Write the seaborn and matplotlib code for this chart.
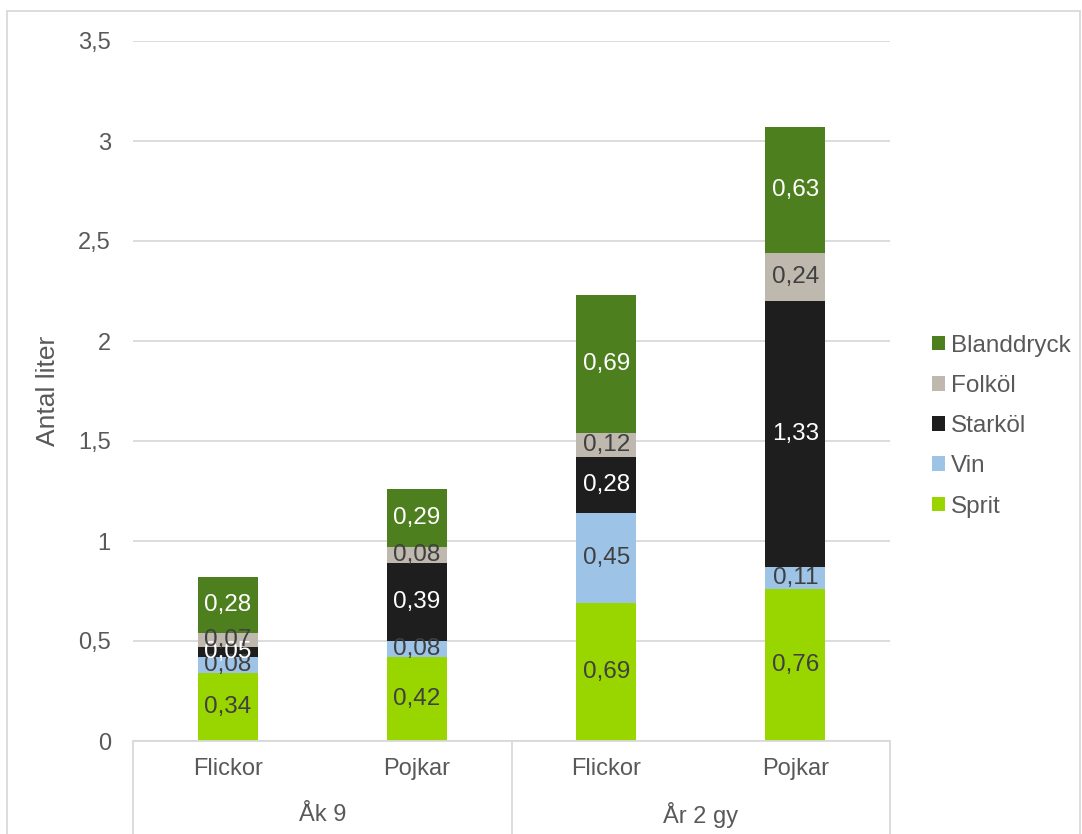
import matplotlib
matplotlib.use("Agg")
import matplotlib.pyplot as plt
import seaborn as sns
import numpy as np
import pandas as pd
from matplotlib.patches import Rectangle, Patch
from matplotlib.ticker import FuncFormatter

categories = ["Flickor", "Pojkar", "Flickor", "Pojkar"]
groups = ["Åk 9", "År 2 gy"]
series = ["Sprit", "Vin", "Starköl", "Folköl", "Blanddryck"]
sprit = [0.34, 0.42, 0.69, 0.76]
vin = [0.08, 0.08, 0.45, 0.11]
starkol = [0.05, 0.39, 0.28, 1.33]
folkol = [0.07, 0.08, 0.12, 0.24]
blanddryck = [0.28, 0.29, 0.69, 0.63]
colors = ["#99D600", "#9DC3E6", "#1E1E1E", "#BFB8AE", "#4E7F1F"]
label_colors = ["#404040", "#404040", "white", "#404040", "white"]

sns.set_theme(style="white")
plt.rcParams["font.family"] = ["Liberation Sans", "DejaVu Sans"]

fig = plt.figure(figsize=(10.82, 8.34), dpi=100)
ax = fig.add_axes([133/1082, 1-741/834, (890-133)/1082, 700/834])

vals = np.array([sprit, vin, starkol, folkol, blanddryck])
cum = np.cumsum(vals, axis=0)
keys = ["c0", "c1", "c2", "c3"]

for i in range(len(series) - 1, -1, -1):
    df = pd.DataFrame({"key": keys, "val": cum[i]})
    sns.barplot(data=df, x="key", y="val", color=colors[i], width=0.317,
                saturation=1, ax=ax, zorder=2, linewidth=0)

for i in range(len(series)):
    for j in range(4):
        center = cum[i, j] - vals[i, j] / 2
        ax.text(j, center, f"{vals[i, j]:.2f}".replace(".", ","),
                ha="center", va="center", fontsize=17.5,
                color=label_colors[i], zorder=4)

ax.set_ylim(0, 3.5)
ax.set_xlim(-0.5, 3.5)
ax.set_yticks(np.arange(0, 3.51, 0.5))
ax.yaxis.set_major_formatter(FuncFormatter(lambda v, p: (f"{v:g}").replace(".", ",")))
ax.grid(axis="y", color="#D9D9D9", linewidth=1.3, zorder=0)
ax.set_axisbelow(True)
for s in ["left", "right", "top"]:
    ax.spines[s].set_visible(False)
ax.spines["bottom"].set_color("#D9D9D9")
ax.spines["bottom"].set_linewidth(1.3)
ax.tick_params(axis="y", length=0, pad=16, labelsize=17, labelcolor="#595959")
ax.tick_params(axis="x", length=0, pad=12, labelsize=17, labelcolor="#595959")
ax.set_xticks(range(4))
ax.set_xticklabels(categories)
ax.set_xlabel("")
ax.set_ylabel("Antal liter", fontsize=19, color="#595959", labelpad=13)

# group separators and labels
for xv in [-0.5, 1.5, 3.5]:
    ax.plot([xv, xv], [0, -0.14], transform=ax.get_xaxis_transform(),
            color="#D9D9D9", linewidth=1.3, clip_on=False)
for gi, g in enumerate(groups):
    ax.text(0.5 + 2 * gi, -74/700, g, transform=ax.get_xaxis_transform(),
            ha="center", va="center", fontsize=17, color="#595959")

handles = [Patch(facecolor=colors[i], edgecolor="none", label=series[i])
           for i in range(len(series) - 1, -1, -1)]
fig.legend(handles=handles, loc="center left", bbox_to_anchor=(932/1082, 0.489),
           frameon=False, fontsize=17.5, labelcolor="#595959", handlelength=0.55,
           handleheight=0.55, handletextpad=0.22, labelspacing=0.75, borderpad=0,
           borderaxespad=0)

fig.patches.append(Rectangle((7/1082, -0.05), 1073/1082, 1.05 - 11/834,
                             transform=fig.transFigure, fill=False,
                             edgecolor="#D9D9D9", linewidth=1.3))

fig.savefig("out.png", dpi=100)
